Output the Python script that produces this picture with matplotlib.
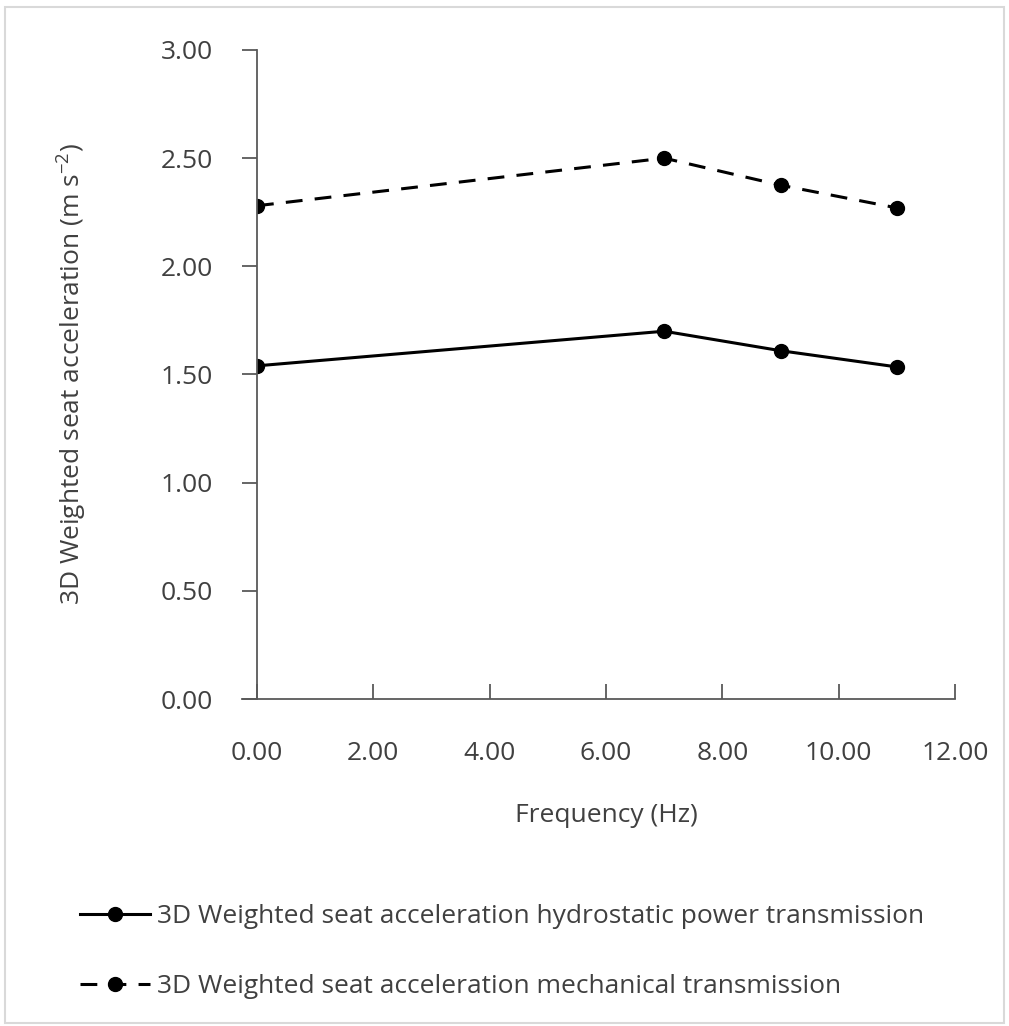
import matplotlib.pyplot as plt
from matplotlib.patches import Rectangle

plt.rcParams['font.family'] = ['Open Sans', 'DejaVu Sans']
plt.rcParams['mathtext.fontset'] = 'custom'
plt.rcParams['mathtext.rm'] = 'Open Sans'

# data
freq = [0, 7, 9, 11]
hydrostatic = [1.54, 1.70, 1.61, 1.535]
mechanical = [2.28, 2.50, 2.375, 2.27]
x_ticks = [0, 2, 4, 6, 8, 10, 12]
y_ticks = [0, 0.5, 1.0, 1.5, 2.0, 2.5, 3.0]

text_col = '#404040'
axis_col = '#595959'
fs = 19

fig = plt.figure(figsize=(10.09, 10.26), dpi=100)
ax = fig.add_axes([0.2547, 0.3187, 0.6918, 0.6326])

l1, = ax.plot(freq, hydrostatic, '-', color='black', lw=2.2, marker='o', markersize=10)
l2, = ax.plot(freq, mechanical, '--', color='black', lw=2.2, marker='o', markersize=10,
              dashes=(5.5, 4))

ax.set_xlim(0, 12)
ax.set_ylim(0, 3)
ax.set_xticks(x_ticks)
ax.set_yticks(y_ticks)
ax.set_xticklabels([f'{v:.2f}' for v in x_ticks])
ax.set_yticklabels([f'{v:.2f}' for v in y_ticks])

for s in ['top', 'right']:
    ax.spines[s].set_visible(False)
for s in ['left', 'bottom']:
    ax.spines[s].set_color(axis_col)
    ax.spines[s].set_linewidth(1.3)
ax.spines['bottom'].set_bounds(-0.25, 12)

ax.tick_params(axis='y', direction='out', length=11, width=1.3, color=axis_col,
               labelcolor=text_col, labelsize=fs, pad=21)
ax.tick_params(axis='x', direction='in', length=11, width=1.3, color=axis_col,
               labelcolor=text_col, labelsize=fs, pad=30)

ax.set_xlabel('Frequency (Hz)', fontsize=fs, color=text_col, labelpad=27)
ax.set_ylabel('3D Weighted seat acceleration (m s$^{-2}$)', fontsize=fs,
              color=text_col, labelpad=52)

fig.legend([l1, l2],
           ['3D Weighted seat acceleration hydrostatic power transmission',
            '3D Weighted seat acceleration mechanical transmission'],
           loc='upper left', bbox_to_anchor=(0.056, 0.142), frameon=False,
           fontsize=fs, labelcolor=text_col, handlelength=2.65,
           handletextpad=0.27, labelspacing=1.7)

fig.patches.append(Rectangle((0.005, 0.003), 0.99, 0.99, transform=fig.transFigure,
                             fill=False, edgecolor='#d9d9d9', lw=1.5))

fig.savefig('out.png', dpi=100)
